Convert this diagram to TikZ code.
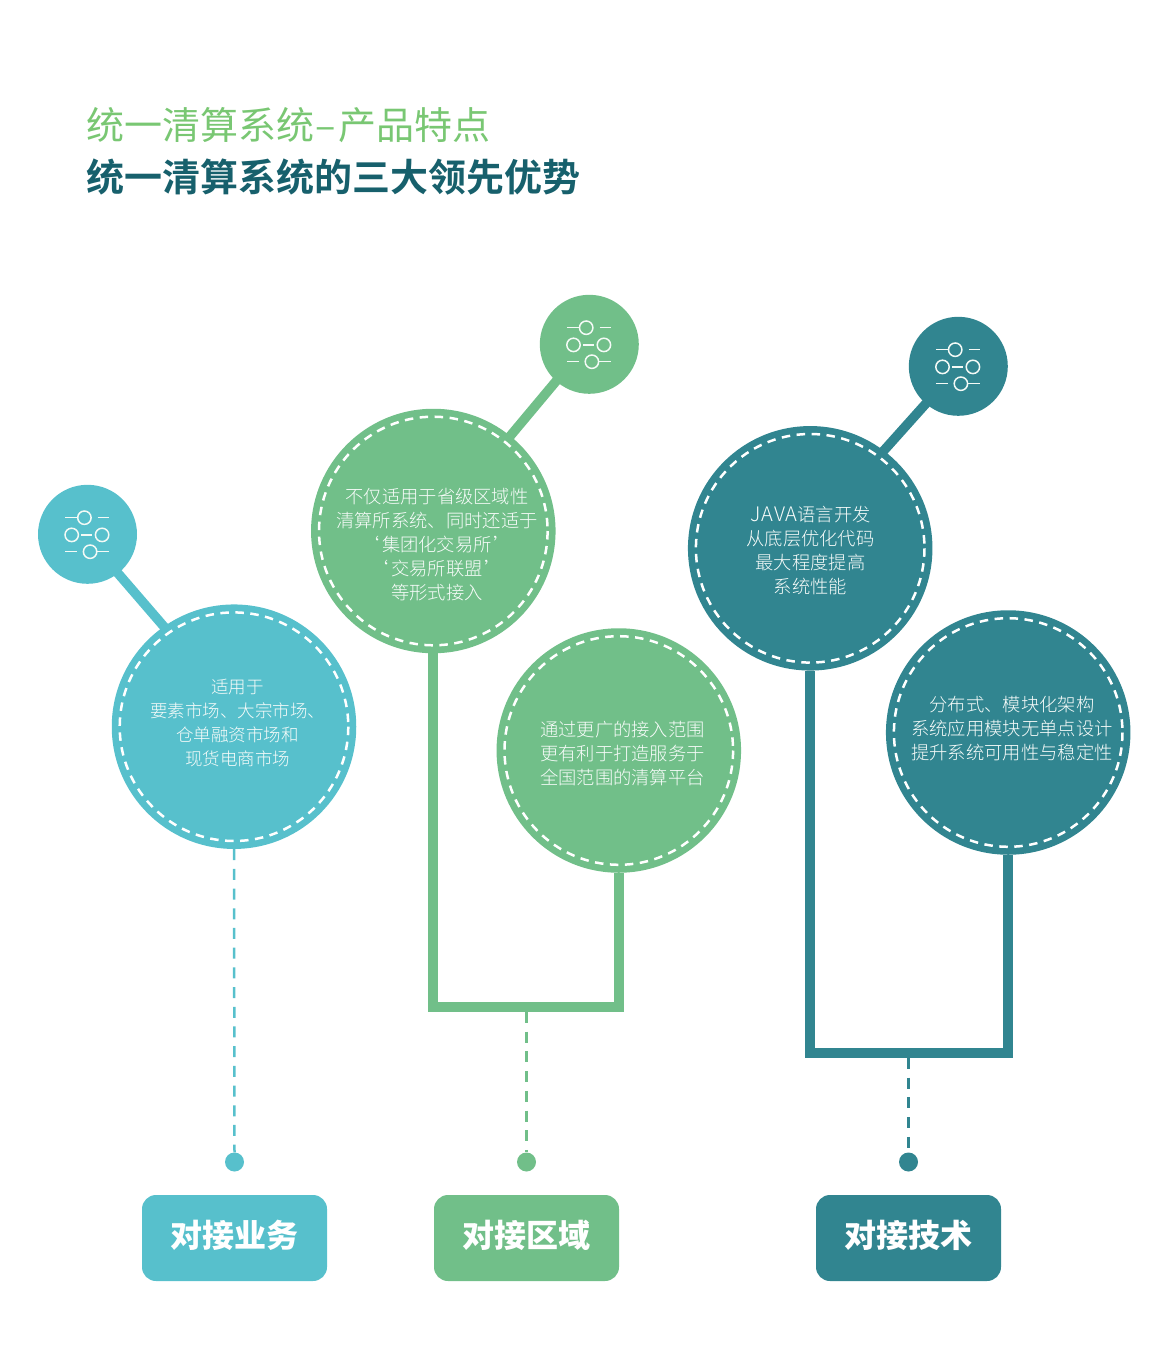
\documentclass[tikz,border=0pt]{standalone}
\usepackage{fontspec}
\usetikzlibrary{backgrounds}
\setmainfont{Noto Sans CJK SC}
\newfontfamily\cjklight{Noto Sans CJK SC Light}
\newfontfamily\cjkheavy{Noto Sans CJK SC Black}
\newfontfamily\cjkbold{Noto Sans CJK SC Bold}
\definecolor{cblue}{HTML}{57C0CC}
\definecolor{cgreen}{HTML}{71BF89}
\definecolor{cteal}{HTML}{318590}
\definecolor{tgreen}{HTML}{79C773}
\definecolor{tdark}{HTML}{17606C}
\definecolor{ctext}{HTML}{F8FCFA}
\newcommand{\sliders}[1]{%
  \begin{scope}[shift={(#1)},draw=white!92!cgreen,line width=1.5pt]
    \draw (-22.4,-16.6) -- (-10,-16.6) (10.2,-16.6) -- (21.9,-16.6);
    \draw (-3.1,-16.6) circle (6.7);
    \draw (-15.8,0.6) circle (6.7) (14.6,0.6) circle (6.7);
    \draw (-6.3,0.6) -- (4.7,0.6);
    \draw (-22.4,17.4) -- (-10.5,17.4) (9.2,17.4) -- (21.9,17.4);
    \draw (2.6,17.4) circle (6.7);
  \end{scope}}
\tikzset{
  x=1pt,y=-1pt,
  disc/.style={circle,fill=#1,draw=none,minimum size=244.5pt,inner sep=0pt},
  icondisc/.style={circle,fill=#1,draw=none,minimum size=99pt,inner sep=0pt},
  enddot/.style={circle,fill=#1,draw=none,minimum size=19pt,inner sep=0pt},
  tagbox/.style={rectangle,rounded corners=14pt,fill=#1,draw=none,minimum width=185pt,minimum height=86pt,inner sep=0pt},
  tagtext/.style={inner sep=0pt,text=white,font=\cjkheavy\fontsize{32}{36}\selectfont},
  ringline/.style={draw=white,line width=2.5pt,dash pattern=on 8.5pt off 6.5pt},
  stem/.style={draw=#1,line width=9.5pt,shorten <=-4pt,shorten >=-4pt},
  busline/.style={draw=#1,line width=10pt,miter limit=10},
  dashstem/.style={draw=#1,line width=2.5pt,dash pattern=on 11pt off 8.7pt},
  bodytext/.style={text=ctext,align=center,inner sep=0pt,font=\cjklight\fontsize{18.3}{24}\selectfont},
}
\begin{document}
\begin{tikzpicture}
\useasboundingbox (0,0) rectangle (1170,1362);
% titles
\node[anchor=west,inner sep=0pt,text=tgreen,font=\fontsize{38}{44}\selectfont] (title1) at (86,125) {统一清算系统\kern1pt–\kern3pt 产品特点};
\node[anchor=west,inner sep=0pt,text=tdark,font=\cjkbold\fontsize{38}{44}\selectfont] (title2) at (86,177) {统一清算系统的三大领先优势};
% discs
\node[icondisc=cblue] (iconA) at (87.5,534.3) {};
\node[disc=cblue] (mainA) at (234,726.7) {};
\node[icondisc=cgreen] (iconB) at (589.3,344.3) {};
\node[disc=cgreen] (mainB) at (433.3,531) {};
\node[disc=cgreen] (mainBb) at (618.8,750.5) {};
\node[icondisc=cteal] (iconC) at (958.3,366.3) {};
\node[disc=cteal] (mainC) at (810.2,548.3) {};
\node[disc=cteal] (mainCb) at (1008.2,732.5) {};
% ends
\node[enddot=cblue] (dotA) at (234.5,1162) {};
\node[enddot=cgreen] (dotB) at (526.5,1162) {};
\node[enddot=cteal] (dotC) at (908.5,1162) {};
\coordinate (busB) at (526.5,1007);
\coordinate (busC) at (908.5,1053);
% connectors
\begin{scope}[on background layer]
\draw[stem=cblue] (iconA.-52) -- (mainA.125);
\draw[stem=cgreen] (iconB.-132.4) -- (mainB.51.3);
\draw[stem=cteal] (iconC.-131) -- (mainC.53);
\draw[busline=cgreen] (mainB.south) |- (busB) -| (mainBb.south);
\draw[busline=cteal] (mainC.south) |- (busC) -| (mainCb.south);
\draw[dashstem=cblue] (mainA.south) -- (dotA.north);
\draw[dashstem=cgreen] (busB) ++(0,5) -- (dotB.north);
\draw[dashstem=cteal] (busC) ++(0,5) -- (dotC.north);
\end{scope}
% dashed rings
\draw[ringline] (mainA) circle (114.3);
\draw[ringline] (mainB) circle (114.3);
\draw[ringline] (mainBb) circle (114.3);
\draw[ringline] (mainC) circle (114.3);
\draw[ringline] (mainCb) circle (114.3);
% icons
\sliders{87.5,534.3}
\sliders{589.3,344.3}
\sliders{958.3,366.3}
% body text
\node[bodytext,font=\cjklight\fontsize{17.5}{24}\selectfont] (txtA) at (237.5,723) {适用于\\要素市场、大宗市场、\\仓单融资市场和\\现货电商市场};
\node[bodytext] (txtB) at (437,545) {不仅适用于省级区域性\\清算所系统、同时还适于\\‘\kern2pt 集团化交易所\kern2pt ’\\‘\kern2pt 交易所联盟\kern2pt ’\\等形式接入};
\node[bodytext] (txtBb) at (622.5,753) {通过更广的接入范围\\更有利于打造服务于\\全国范围的清算平台};
\node[bodytext] (txtC) at (810.5,551) {{\fontsize{20}{24}\selectfont\addfontfeature{LetterSpace=5}JAVA}语言开发\\从底层优化代码\\最大程度提高\\系统性能};
\node[bodytext] (txtCb) at (1012,729) {分布式、模块化架构\\系统应用模块无单点设计\\提升系统可用性与稳定性};
% tags
\node[tagbox=cblue] (tagA) at (234.5,1238) {};
\node[tagbox=cgreen] (tagB) at (526.5,1238) {};
\node[tagbox=cteal] (tagC) at (908.5,1238) {};
\node[tagtext] at ([yshift=2.5pt]tagA.center) {对接业务};
\node[tagtext] at ([yshift=2.5pt]tagB.center) {对接区域};
\node[tagtext] at ([yshift=2.5pt]tagC.center) {对接技术};
\end{tikzpicture}
\end{document}
